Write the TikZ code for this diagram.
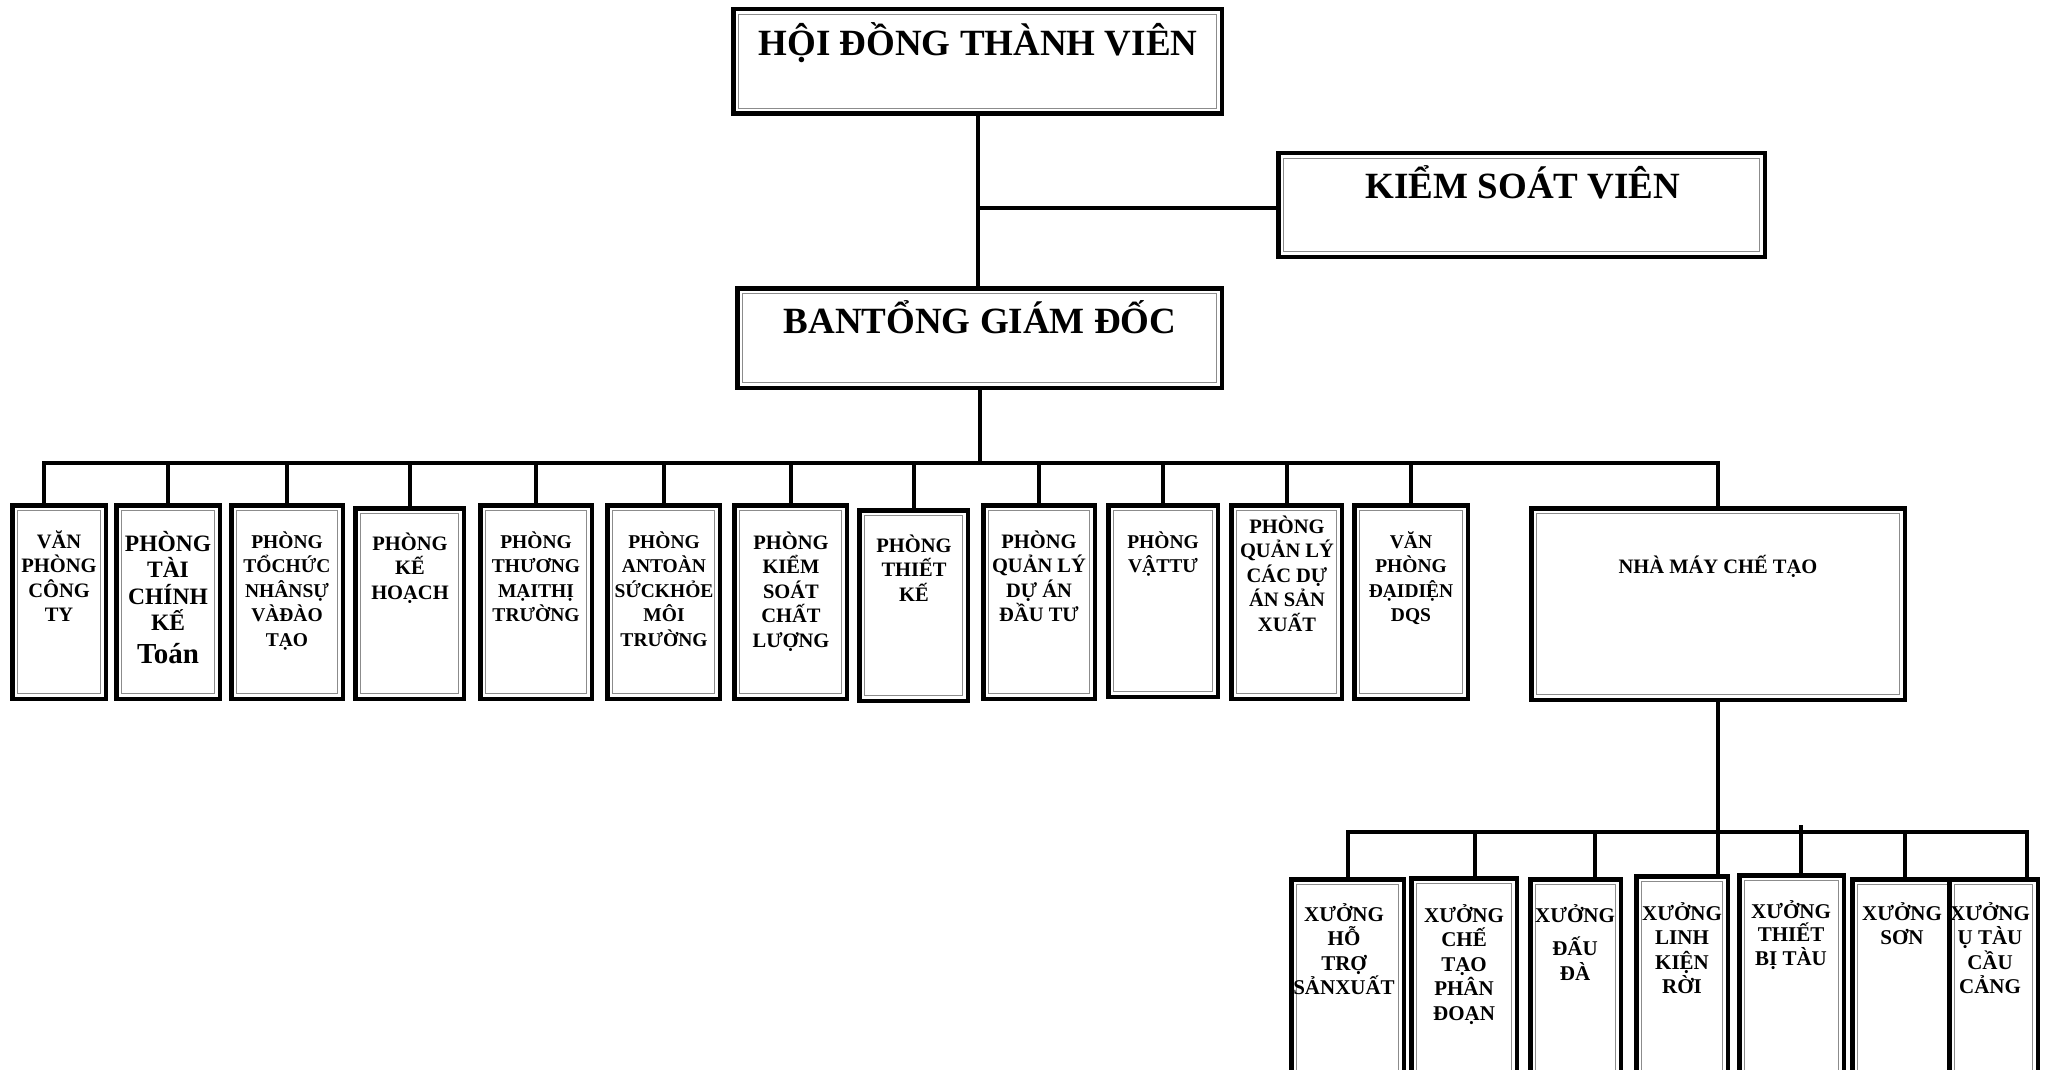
\documentclass[tikz,border=0pt]{standalone}
\usepackage{fontspec}
\setmainfont{Liberation Serif}
\tikzset{
  obox/.style={draw=black, line width=4.5pt, fill=white, inner sep=0pt,
    path picture={\draw[black!45, line width=1.4pt]
      ([xshift=5.5pt,yshift=-5.5pt]path picture bounding box.north west) rectangle
      ([xshift=-5.5pt,yshift=5.5pt]path picture bounding box.south east);}},
  conn/.style={draw=black, line width=4pt},
  lab/.style={anchor=north, align=center, inner sep=0pt, text=black},
}
% name, x1, y1, x2, y2 (outer edges, px)
\newcommand\obx[5]{\node[obox, minimum width={#4-#2-4.5}, minimum height={#5-#3-4.5}] (#1) at ({(#2+#4)/2},{(#3+#5)/2}) {};}
% name, x, first baseline, size, skip, text
\newcommand\mylab[6]{\node[lab, font=\fontsize{#4}{#5}\selectfont\bfseries] (#1) at (#2,{#3-1.2*#4}) {\rule{0pt}{1.2em}#6};}
\begin{document}
\begin{tikzpicture}[x=1pt,y=-1pt]
\useasboundingbox (0,0) rectangle (2048,1070);
\clip (0,0) rectangle (2048,1070);
\fill[white] (0,0) rectangle (2048,1070);

% main boxes
\obx{hoi}{731}{7}{1224}{116}
\obx{ksv}{1276}{151}{1767}{259}
\obx{ban}{735}{286}{1224}{390}

% department row
\obx{b1}{10}{503}{108}{701}
\obx{b2}{114}{503}{222}{701}
\obx{b3}{229}{503}{345}{701}
\obx{b4}{353}{506}{466}{701}
\obx{b5}{478}{503}{594}{701}
\obx{b6}{605}{503}{722}{701}
\obx{b7}{732}{503}{849}{701}
\obx{b8}{857}{508}{970}{703}
\obx{b9}{981}{503}{1097}{701}
\obx{b10}{1106}{503}{1220}{699}
\obx{b11}{1229}{503}{1344}{701}
\obx{b12}{1352}{503}{1470}{701}
\obx{nha}{1529}{506}{1907}{702}

% workshop row
\obx{c1}{1289}{877}{1406}{1085}
\obx{c2}{1409}{876}{1519}{1085}
\obx{c3}{1528}{877}{1623}{1085}
\obx{c4}{1634}{874}{1730}{1085}
\obx{c5}{1737}{873}{1846}{1085}
\obx{c6}{1850}{877}{2036}{1085}
\obx{c7}{1947}{877}{2040}{1085}

% connectors
\coordinate (bus) at (0,463);
\coordinate (bus2) at (0,832);
\draw[conn] (hoi.south) -- (hoi.south |- ban.north);
\coordinate (kj) at ([yshift=-3pt]ksv.west);
\draw[conn] (hoi.south |- kj) -- (kj);
\draw[conn] (ban.south) -- (ban.south |- bus);
\coordinate (d1) at ([xshift=-15pt]b1.north);
\draw[conn] (d1) |- (nha.north |- bus) -- (nha.north);
\foreach \i in {2,...,12} \draw[conn] (b\i.north |- bus) -- (b\i.north);

\draw[conn] (nha.south) -- (nha.south |- c4.north);
\coordinate (e7) at ([xshift=33pt]c7.north);
\coordinate (e2) at ([xshift=11pt]c2.north);
\coordinate (e3) at ([xshift=19pt]c3.north);
\coordinate (e6) at ([xshift=-38pt]c6.north);
\coordinate (e5) at ([xshift=9pt]c5.north);
\coordinate (e5t) at ([xshift=9pt,yshift=48pt]c5.north);
\draw[conn] (c1.north) |- (e7 |- bus2) -- (e7);
\draw[conn] (e2 |- bus2) -- (e2);
\draw[conn] (e3 |- bus2) -- (e3);
\draw[conn] (e6 |- bus2) -- (e6);
\draw[conn] (e5t) -- (e5);

% labels
\mylab{thoi}{978}{55}{37}{40}{HỘI ĐỒNG THÀNH VIÊN}
\mylab{tksv}{1523}{198}{37}{40}{KIỂM SOÁT VIÊN}
\mylab{tban}{980}{333}{37}{40}{BANTỔNG GIÁM ĐỐC}

\mylab{t1}{59}{548}{20.5}{24.5}{VĂN\\PHÒNG\\CÔNG\\TY}
\mylab{t2}{168}{551}{23.5}{26.5}{PHÒNG\\TÀI\\CHÍNH\\KẾ\\[6pt]{\fontsize{29}{30}\selectfont Toán}}
\mylab{t3}{287}{548}{19.5}{24.5}{PHÒNG\\TỔCHỨC\\NHÂNSỰ\\VÀĐÀO\\TẠO}
\mylab{t4}{410}{550}{20.5}{24.5}{PHÒNG\\KẾ\\HOẠCH}
\mylab{t5}{536}{548}{19.5}{24.5}{PHÒNG\\THƯƠNG\\MẠITHỊ\\TRƯỜNG}
\mylab{t6}{664}{548}{19.5}{24.5}{PHÒNG\\ANTOÀN\\SỨCKHỎE\\MÔI\\TRƯỜNG}
\mylab{t7}{791}{549}{20.5}{24.5}{PHÒNG\\KIỂM\\SOÁT\\CHẤT\\LƯỢNG}
\mylab{t8}{914}{552}{20.5}{24.5}{PHÒNG\\THIẾT\\KẾ}
\mylab{t9}{1039}{548}{20.5}{24.5}{PHÒNG\\QUẢN LÝ\\DỰ ÁN\\ĐẦU TƯ}
\mylab{t10}{1163}{548}{19.5}{24.5}{PHÒNG\\VẬTTƯ}
\mylab{t11}{1287}{533}{20.5}{24.5}{PHÒNG\\QUẢN LÝ\\CÁC DỰ\\ÁN SẢN\\XUẤT}
\mylab{t12}{1411}{548}{19.5}{24.5}{VĂN\\PHÒNG\\ĐẠIDIỆN\\DQS}
\mylab{t13}{1718}{573}{20.5}{24}{NHÀ MÁY CHẾ TẠO}

\mylab{s1}{1344}{921}{21}{24.5}{XƯỞNG\\HỖ\\TRỢ\\SẢNXUẤT}
\mylab{s2}{1464}{922}{21}{24.5}{XƯỞNG\\CHẾ\\TẠO\\PHÂN\\ĐOẠN}
\mylab{s3}{1575}{922}{21}{24.5}{XƯỞNG\\[9pt]ĐẤU\\ĐÀ}
\mylab{s4}{1682}{920}{21}{24.5}{XƯỞNG\\LINH\\KIỆN\\RỜI}
\mylab{s5}{1791}{918}{21}{23.5}{XƯỞNG\\THIẾT\\BỊ TÀU}
\mylab{s6}{1902}{920}{21}{24.5}{XƯỞNG\\SƠN}
\mylab{s7}{1990}{920}{21}{24.5}{XƯỞNG\\Ụ TÀU\\CẦU\\CẢNG}
\end{tikzpicture}
\end{document}
